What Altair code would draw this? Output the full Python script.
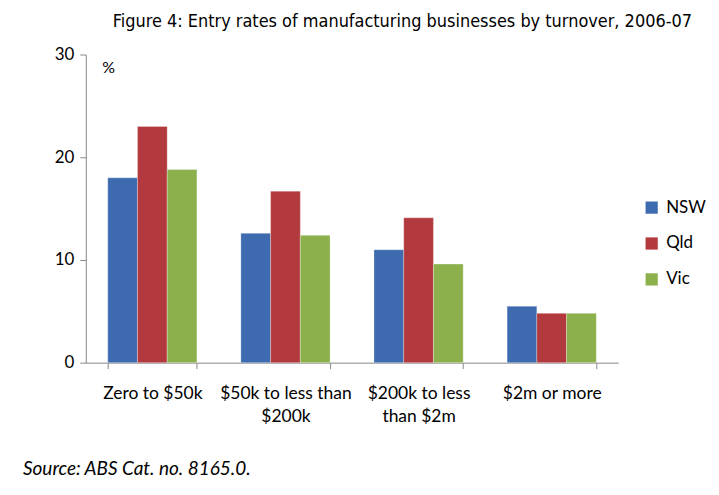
import altair as alt
import pandas as pd

categories = ["Zero to $50k", "$50k to less than|$200k", "$200k to less|than $2m", "$2m or more"]
states = ["NSW", "Qld", "Vic"]
nsw = [18.0, 12.6, 11.0, 5.5]
qld = [23.0, 16.7, 14.1, 4.8]
vic = [18.8, 12.4, 9.6, 4.8]
colors = ["#3E6BB0", "#B23A3E", "#8CB04B"]
source_note = ["Source: ABS Cat. no. 8165.0."]

rows = []
for i, c in enumerate(categories):
    for s, vals in zip(states, [nsw, qld, vic]):
        rows.append({"cat": c, "state": s, "value": vals[i]})
df = pd.DataFrame(rows)

FONT = "Lato"

bars = alt.Chart(df).mark_bar(stroke="white", strokeWidth=0.5, strokeOpacity=0.6).encode(
    x=alt.X("cat:N", sort=categories,
            scale=alt.Scale(paddingInner=0.33, paddingOuter=0.165),
            axis=alt.Axis(title=None, labelAngle=0, labelExpr="split(datum.label, '|')",
                          labelFont=FONT, labelFontSize=17.5, labelColor="#000",
                          labelPadding=16, labelLineHeight=23,
                          tickBand="extent", tickSize=6, tickColor="#888", domainColor="#888",
                          labelBaseline="top")),
    xOffset=alt.XOffset("state:N", sort=states),
    y=alt.Y("value:Q", scale=alt.Scale(domain=[0, 30]),
            axis=alt.Axis(values=[0, 10, 20, 30], grid=False, title="%",
                          titleAngle=0, titleX=16, titleY=13, titleFont=FONT,
                          titleFontSize=16, titleFontWeight="normal", titleColor="#000",
                          titleAlign="left", titleBaseline="middle",
                          labelFont=FONT, labelFontSize=17, labelColor="#000",
                          tickSize=6, tickColor="#888", domainColor="#888", labelPadding=6)),
    color=alt.Color("state:N", sort=states, scale=alt.Scale(domain=states, range=colors),
                    legend=alt.Legend(title=None, orient="none", legendX=559, legendY=145,
                                      symbolType="square", symbolSize=150, symbolStrokeWidth=0,
                                      labelFont=FONT, labelFontSize=17, labelColor="#000",
                                      rowPadding=18, labelOffset=6)),
)

note = alt.Chart(pd.DataFrame({"t": source_note})).mark_text(
    align="left", baseline="middle", font=FONT, fontSize=19, fontStyle="italic", color="#000"
).encode(text="t:N", x=alt.value(-63), y=alt.value(416))

chart = alt.layer(bars, note).properties(
    width=534, height=309,
    padding={"left": 15, "top": 4, "right": 5, "bottom": 5},
    title=alt.TitleParams("Figure 4: Entry rates of manufacturing businesses by turnover, 2006-07",
                          anchor="start", frame="group", dx=27,
                          font="DejaVu Sans Condensed, Roboto, sans-serif",
                          fontSize=18, fontWeight="normal", color="#000", offset=15),
).configure_view(stroke=None)

chart.save("out.html", embed_options={"renderer": "svg", "actions": False})
